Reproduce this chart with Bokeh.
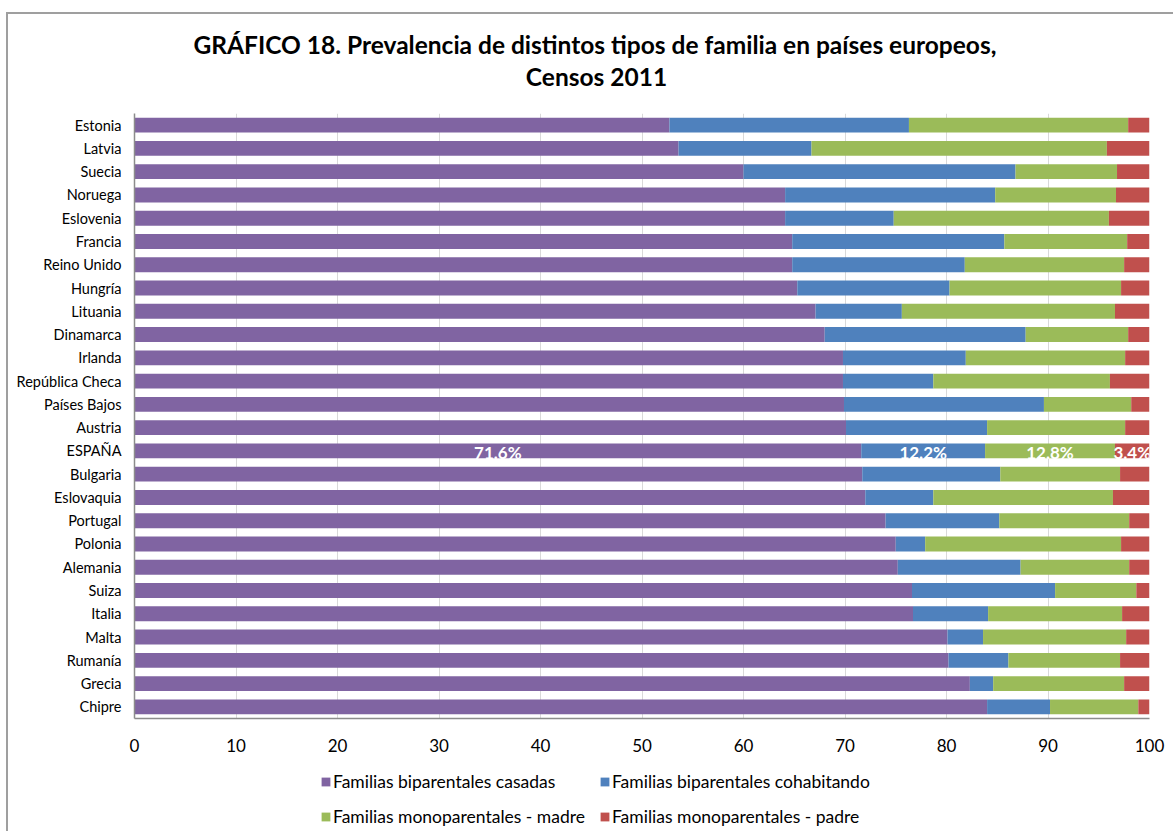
from bokeh.plotting import figure
from bokeh.layouts import column
from bokeh.models import (Range1d, FactorRange, FixedTicker, Legend, LegendItem,
                          ColumnDataSource)
from bokeh.core.properties import value
from bokeh.embed import file_html
from bokeh.resources import INLINE

FONT = "Lato"

title_line1 = "GRÁFICO 18. Prevalencia de distintos tipos de familia en países europeos,"
title_line2 = "Censos 2011"

countries = ["Estonia", "Latvia", "Suecia", "Noruega", "Eslovenia", "Francia",
             "Reino Unido", "Hungría", "Lituania", "Dinamarca", "Irlanda",
             "República Checa", "Países Bajos", "Austria", "ESPAÑA", "Bulgaria",
             "Eslovaquia", "Portugal", "Polonia", "Alemania", "Suiza", "Italia",
             "Malta", "Rumanía", "Grecia", "Chipre"]

casadas = [52.7, 53.6, 60.0, 64.1, 64.1, 64.8, 64.8, 65.3, 67.1, 68.0, 69.8, 69.8, 69.9,
           70.1, 71.6, 71.7, 72.0, 74.0, 75.0, 75.2, 76.6, 76.7, 80.1, 80.2, 82.3, 84.0]
cohabitando = [23.6, 13.1, 26.8, 20.7, 10.7, 20.9, 17.0, 15.0, 8.5, 19.8, 12.1, 8.9, 19.7,
               13.9, 12.2, 13.6, 6.7, 11.2, 2.9, 12.1, 14.1, 7.4, 3.5, 5.9, 2.3, 6.2]
madre = [21.6, 29.1, 10.0, 11.9, 21.2, 12.1, 15.7, 16.9, 21.0, 10.1, 15.7, 17.4, 8.6,
         13.6, 12.8, 11.8, 17.7, 12.8, 19.3, 10.7, 8.0, 13.2, 14.1, 11.0, 12.9, 8.7]
padre = [2.1, 4.2, 3.2, 3.3, 4.0, 2.2, 2.5, 2.8, 3.4, 2.1, 2.4, 3.9, 1.8,
         2.4, 3.4, 2.9, 3.6, 2.0, 2.8, 2.0, 1.3, 2.7, 2.3, 2.9, 2.5, 1.1]

series_names = ["Familias biparentales casadas", "Familias biparentales cohabitando",
                "Familias monoparentales - madre", "Familias monoparentales - padre"]
series_keys = ["casadas", "cohabitando", "madre", "padre"]
colors = ["#8064A2", "#4F81BD", "#9BBB59", "#C0504D"]

x_ticks = [0, 10, 20, 30, 40, 50, 60, 70, 80, 90, 100]
highlight = "ESPAÑA"

W = 1165
BL, BR = 126, 24          # left / right borders of the aligned frames
FX0, FX1 = BL, W - BR     # frame extent in canvas pixels

# ---------------- title strip ----------------
TH = 92
tf = figure(width=W, height=TH, x_range=Range1d(FX0, FX1), y_range=Range1d(0, TH),
            x_axis_location=None, y_axis_location=None, output_backend="svg",
            toolbar_location=None, min_border=0,
            min_border_left=BL, min_border_right=BR)
tf.grid.visible = False
tf.outline_line_color = None
tf.text(x=[W / 2 + 4], y=[TH - 30], text=[title_line1], text_align="center",
        text_baseline="middle", text_font=value(FONT), text_font_style="bold",
        text_font_size="24.5px", text_color="black")
tf.text(x=[W / 2 + 5.5], y=[TH - 62], text=[title_line2], text_align="center",
        text_baseline="middle", text_font=value(FONT), text_font_style="bold",
        text_font_size="24.5px", text_color="black")

# ---------------- main chart ----------------
source = ColumnDataSource(dict(country=countries, casadas=casadas,
                               cohabitando=cohabitando, madre=madre, padre=padre))

p = figure(width=W, height=660,
           y_range=FactorRange(factors=countries[::-1]),
           x_range=Range1d(0, 100),
           output_backend="svg", toolbar_location=None,
           min_border_left=BL, min_border_right=BR,
           min_border_top=7, min_border_bottom=48)

renderers = p.hbar_stack(series_keys, y="country", height=0.64, color=colors,
                         line_color=None, source=source)

i = countries.index(highlight)
vals = [casadas[i], cohabitando[i], madre[i], padre[i]]
centers = []
acc = 0.0
for v in vals:
    centers.append(acc + v / 2.0)
    acc += v
lab_src = ColumnDataSource(dict(x=centers, y=[highlight] * 4,
                                text=[f"{v:.1f}%" for v in vals]))
p.text(x="x", y="y", text="text", source=lab_src, text_align="center",
       text_baseline="middle", text_color="white", text_font=value(FONT),
       text_font_style="bold", text_font_size="17px", y_offset=2)

p.xaxis.ticker = FixedTicker(ticks=x_ticks)
p.xaxis.major_label_text_font = FONT
p.xaxis.major_label_text_font_size = "17px"
p.xaxis.major_label_text_color = "black"
p.xaxis.axis_line_color = "#8c8c8c"
p.xaxis.axis_line_width = 1.5
p.xaxis.major_tick_line_color = None
p.xaxis.minor_tick_line_color = None
p.xaxis.major_label_standoff = 14

p.yaxis.major_label_text_font = FONT
p.yaxis.major_label_text_font_size = "14.5px"
p.yaxis.major_label_text_color = "black"
p.yaxis.axis_line_color = "#8c8c8c"
p.yaxis.axis_line_width = 1.5
p.yaxis.major_tick_line_color = None
p.yaxis.minor_tick_line_color = None
p.yaxis.major_label_standoff = 7

p.xgrid.grid_line_color = "#d9d9d9"
p.ygrid.grid_line_color = None
p.outline_line_color = None

# ---------------- legend strip ----------------
LH = 65
lf = figure(width=W, height=LH, x_range=Range1d(FX0, FX1), y_range=Range1d(0, LH),
            x_axis_location=None, y_axis_location=None, output_backend="svg",
            toolbar_location=None, min_border=0,
            min_border_left=BL, min_border_right=BR)
lf.grid.visible = False
lf.outline_line_color = None
nan = float("nan")
swatches = [lf.hbar(y=[nan], right=[nan], height=1, color=c, line_color=None)
            for c in colors]
items = [LegendItem(label=n, renderers=[r]) for n, r in zip(series_names, swatches)]
legend = Legend(items=items, location=(186, 4), orientation="horizontal", ncols=2,
                glyph_width=11, glyph_height=11, label_text_font=FONT,
                label_text_font_size="17.5px", label_text_color="black",
                label_standoff=2, spacing=14,
                padding=0, margin=0, border_line_color=None,
                background_fill_alpha=0, label_height=20)
lf.add_layout(legend, "center")

layout = column(tf, p, lf, spacing=0,
                styles={"border-top": "2px solid #9f9f9f", "border-left": "2px solid #9f9f9f",
                        "margin-top": "12px", "margin-left": "6px"})

open("out.html", "w").write(file_html(layout, INLINE))
